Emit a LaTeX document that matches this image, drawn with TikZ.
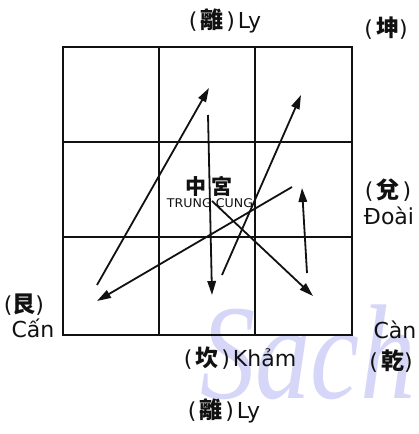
\documentclass[tikz,border=0pt]{standalone}
\usepackage{fontspec}
\setmainfont{DejaVu Sans}
\newfontfamily\cjk{Noto Sans CJK TC}
\newfontfamily\markfont{Liberation Serif}
\usetikzlibrary{positioning, arrows.meta, calc}
\definecolor{mInk}{HTML}{111111}
\definecolor{mMark}{HTML}{D6D6F8}
\newcommand{\gsp}{\hspace{3pt}}
\newcommand{\hz}[1]{{\cjk\bfseries\fontsize{23}{24}\selectfont #1}}

\begin{document}
\begin{tikzpicture}[
  x=1pt, y=-1pt,
  gua/.style={font=\fontsize{22}{24}\selectfont, text=mInk, inner sep=1pt},
  flow/.style={line width=1.8pt, draw=mInk, -{Triangle[length=14pt,width=8.5pt]}},
  cell/.style={line width=1.6pt, draw=mInk},
]
  \useasboundingbox (0,0) rectangle (419,434);
  % watermark
  \node[text=mMark, font=\fontsize{135}{135}\selectfont\itshape\markfont, anchor=base west,
    inner sep=0pt, xscale=0.82] (mark) at (200,398) {Sach};

  % grid
  \draw[cell, line width=2.2pt] (63,47) rectangle (352,335);
  \draw[cell] (159,47) -- (159,335);
  \draw[cell] (255,47) -- (255,335);
  \draw[cell] (63,142) -- (352,142);
  \draw[cell] (63,237) -- (352,237);

  % labels
  \node[gua] (ly)    at (225,21)  {(\gsp\hz{離}\gsp)\gsp Ly};
  \node[gua] (khon)  at (386,28)  {(\gsp\hz{坤})};
  \node[gua] (doai)  at (388,190) {(\gsp\hz{兌}\gsp)};
  \node[gua] (doaiv) at (389,216) {Đoài};
  \node[gua] (can)   at (24,305)  {(\hz{艮})};
  \node[gua] (canv)  at (33,328)  {Cấn};
  \node[gua] (canw)  at (395,330) {Càn};
  \node[gua] (kien)  at (391,361) {(\gsp\hz{乾})};
  \node[gua] (kham)  at (240,358) {(\gsp\hz{坎}\gsp)\gsp Khảm};
  \node[gua] (ly2)   at (224,411) {(\gsp\hz{離}\gsp)\gsp Ly};

  \node[font=\fontsize{21}{21}\selectfont\cjk\bfseries, text=mInk] (trung) at (209,186) {中\hspace{6pt}宮};
  \node[font=\fontsize{12}{12}\selectfont, text=mInk, inner sep=0pt,
    xscale=1.05] (tcung) at (210,203) {TRUNG CUNG};

  % flight path
  \coordinate (p5) at (212,201);
  \coordinate (p6) at (313,296);
  \coordinate (p6b) at (307,273);
  \coordinate (p7) at (302,188);
  \coordinate (p7b) at (292,187);
  \coordinate (p8) at (97,301);
  \coordinate (p8b) at (97,285);
  \coordinate (p9) at (209,88);
  \coordinate (p9b) at (208,115);
  \coordinate (p1) at (212,295);
  \coordinate (p1b) at (222,275);
  \coordinate (p2) at (301,95);

  \draw[flow] (p5) -- (p6);
  \draw[flow] (p6b) -- (p7);
  \draw[flow] (p7b) -- (p8);
  \draw[flow] (p8b) -- (p9);
  \draw[flow] (p9b) -- (p1);
  \draw[flow] (p1b) -- (p2);
\end{tikzpicture}
\end{document}
